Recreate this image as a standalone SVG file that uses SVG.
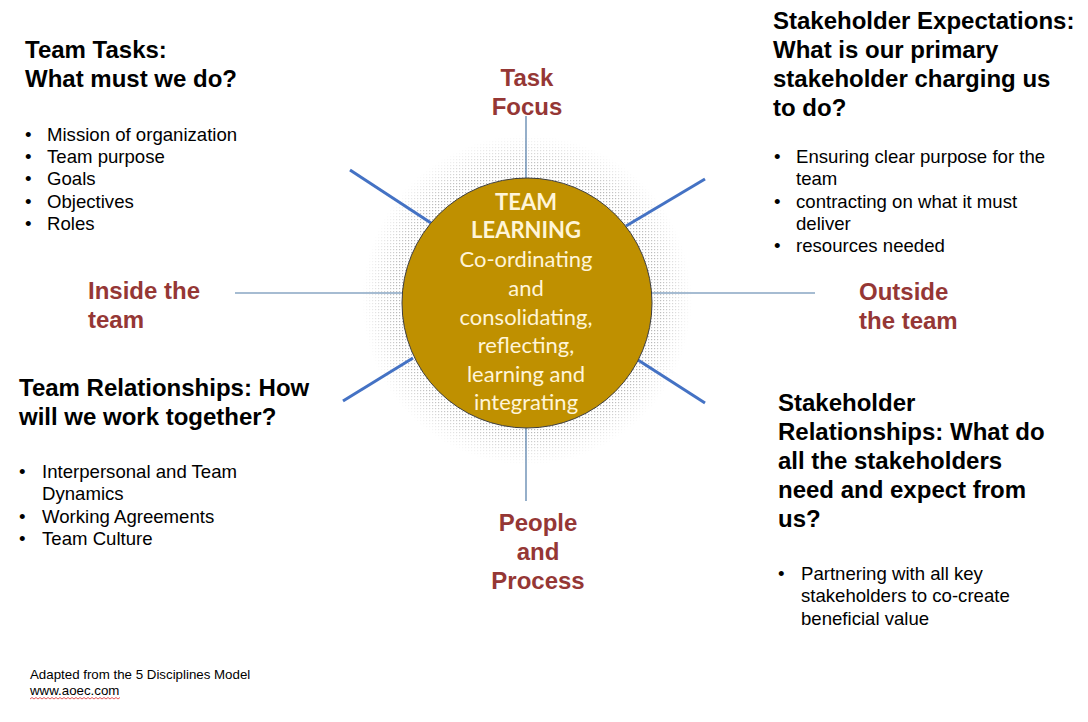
<svg xmlns="http://www.w3.org/2000/svg" width="1088" height="722" viewBox="0 0 1088 722">
<style>
.hd{font-family:"Liberation Sans",Arial,sans-serif;font-weight:bold;font-size:24px;fill:#000}
.lb{font-family:"Liberation Sans",Arial,sans-serif;font-weight:bold;font-size:24px;fill:#953735}
.bt{font-family:"Liberation Sans",Arial,sans-serif;font-size:18.6px;fill:#000}
.ft{font-family:"Liberation Sans",Arial,sans-serif;font-size:13.3px;fill:#000}
.ct{font-family:Lato,"Open Sans",sans-serif;font-size:22px;fill:#FFF5D8;text-anchor:middle}
.thin{stroke:#4F7AA6;stroke-width:1.2;fill:none}
.thick{stroke:#4472C4;stroke-width:3;fill:none}
</style>
<defs>
<pattern id="dots" width="3" height="3" patternUnits="userSpaceOnUse">
<rect x="0" y="0" width="1.2" height="1.2" fill="#b8b8b8"/>
</pattern>
<radialGradient id="fade" cx="0.5" cy="0.5" r="0.5">
<stop offset="0.8" stop-color="#fff" stop-opacity="1"/>
<stop offset="1" stop-color="#fff" stop-opacity="0"/>
</radialGradient>
<mask id="haloMask">
<circle cx="527" cy="300" r="165" fill="url(#fade)"/>
</mask>
</defs>
<rect width="1088" height="722" fill="#fff"/>

<g id="halo">
<circle cx="527" cy="300" r="165" fill="url(#dots)" mask="url(#haloMask)"/>
</g>

<g id="connectors">
<line class="thin" x1="526" y1="116" x2="526" y2="178"/>
<line class="thin" x1="526" y1="428" x2="526" y2="501"/>
<line class="thin" x1="235" y1="293" x2="402" y2="293"/>
<line class="thin" x1="652" y1="293" x2="815" y2="293"/>
<line class="thick" x1="350" y1="170" x2="431" y2="223"/>
<line class="thick" x1="626" y1="226" x2="705" y2="179"/>
<line class="thick" x1="413" y1="358" x2="343" y2="401"/>
<line class="thick" x1="638" y1="360" x2="705" y2="403"/>
</g>

<g id="center">
<circle cx="527" cy="303" r="125" fill="#BF9000" stroke="#3F3F3F" stroke-width="1"/>
<text class="ct" x="526" y="210" font-weight="bold">TEAM</text>
<text class="ct" x="526" y="238" font-weight="bold">LEARNING</text>
<text class="ct" x="526" y="267">Co-ordinating</text>
<text class="ct" x="526" y="296">and</text>
<text class="ct" x="526" y="325">consolidating,</text>
<text class="ct" x="526" y="353">reflecting,</text>
<text class="ct" x="526" y="382">learning and</text>
<text class="ct" x="526" y="410">integrating</text>
</g>

<g id="task-focus">
<text class="lb" x="527" y="86" text-anchor="middle">Task</text>
<text class="lb" x="527" y="115" text-anchor="middle">Focus</text>
</g>
<g id="people-process">
<text class="lb" x="538" y="531" text-anchor="middle">People</text>
<text class="lb" x="538" y="560" text-anchor="middle">and</text>
<text class="lb" x="538" y="589" text-anchor="middle">Process</text>
</g>
<g id="inside-team">
<text class="lb" x="88" y="299">Inside the</text>
<text class="lb" x="88" y="328">team</text>
</g>
<g id="outside-team">
<text class="lb" x="859" y="300">Outside</text>
<text class="lb" x="859" y="329">the team</text>
</g>

<g id="team-tasks">
<text class="hd" x="25" y="58">Team Tasks:</text>
<text class="hd" x="25" y="87">What must we do?</text>
<text class="bt" x="25" y="141">•</text><text class="bt" x="47" y="141">Mission of organization</text>
<text class="bt" x="25" y="163">•</text><text class="bt" x="47" y="163">Team purpose</text>
<text class="bt" x="25" y="185">•</text><text class="bt" x="47" y="185">Goals</text>
<text class="bt" x="25" y="208">•</text><text class="bt" x="47" y="208">Objectives</text>
<text class="bt" x="25" y="230">•</text><text class="bt" x="47" y="230">Roles</text>
</g>

<g id="stakeholder-expectations">
<text class="hd" x="773" y="29">Stakeholder Expectations:</text>
<text class="hd" x="773" y="58">What is our primary</text>
<text class="hd" x="773" y="87">stakeholder charging us</text>
<text class="hd" x="773" y="116">to do?</text>
<text class="bt" x="774" y="163">•</text><text class="bt" x="796" y="163">Ensuring clear purpose for the</text>
<text class="bt" x="796" y="185">team</text>
<text class="bt" x="774" y="208">•</text><text class="bt" x="796" y="208">contracting on what it must</text>
<text class="bt" x="796" y="230">deliver</text>
<text class="bt" x="774" y="252">•</text><text class="bt" x="796" y="252">resources needed</text>
</g>

<g id="team-relationships">
<text class="hd" x="19" y="396">Team Relationships: How</text>
<text class="hd" x="19" y="425">will we work together?</text>
<text class="bt" x="19" y="478">•</text><text class="bt" x="42" y="478">Interpersonal and Team</text>
<text class="bt" x="42" y="500">Dynamics</text>
<text class="bt" x="19" y="523">•</text><text class="bt" x="42" y="523">Working Agreements</text>
<text class="bt" x="19" y="545">•</text><text class="bt" x="42" y="545">Team Culture</text>
</g>

<g id="stakeholder-relationships">
<text class="hd" x="778" y="411">Stakeholder</text>
<text class="hd" x="778" y="440">Relationships: What do</text>
<text class="hd" x="778" y="469">all the stakeholders</text>
<text class="hd" x="778" y="498">need and expect from</text>
<text class="hd" x="778" y="527">us?</text>
<text class="bt" x="778" y="580">•</text><text class="bt" x="801" y="580">Partnering with all key</text>
<text class="bt" x="801" y="602">stakeholders to co-create</text>
<text class="bt" x="801" y="625">beneficial value</text>
</g>

<g id="footer">
<text class="ft" x="30" y="679">Adapted from the 5 Disciplines Model</text>
<text class="ft" x="30" y="695">www.aoec.com</text>
<path d="M30 699 l2 -1.5 l2 1.5 l2 -1.5 l2 1.5 l2 -1.5 l2 1.5 l2 -1.5 l2 1.5 l2 -1.5 l2 1.5 l2 -1.5 l2 1.5 l2 -1.5 l2 1.5 l2 -1.5 l2 1.5 l2 -1.5 l2 1.5 l2 -1.5 l2 1.5 l2 -1.5 l2 1.5 l2 -1.5 l2 1.5 l2 -1.5 l2 1.5 l2 -1.5 l2 1.5 l2 -1.5 l2 1.5 l2 -1.5 l2 1.5 l2 -1.5 l2 1.5 l2 -1.5 l2 1.5 l2 -1.5 l2 1.5 l2 -1.5 l2 1.5 l2 -1.5 l2 1.5 l2 -1.5 l2 1.5 l2 -1.5" stroke="#E03030" stroke-width="0.8" fill="none"/>
</g>
</svg>
